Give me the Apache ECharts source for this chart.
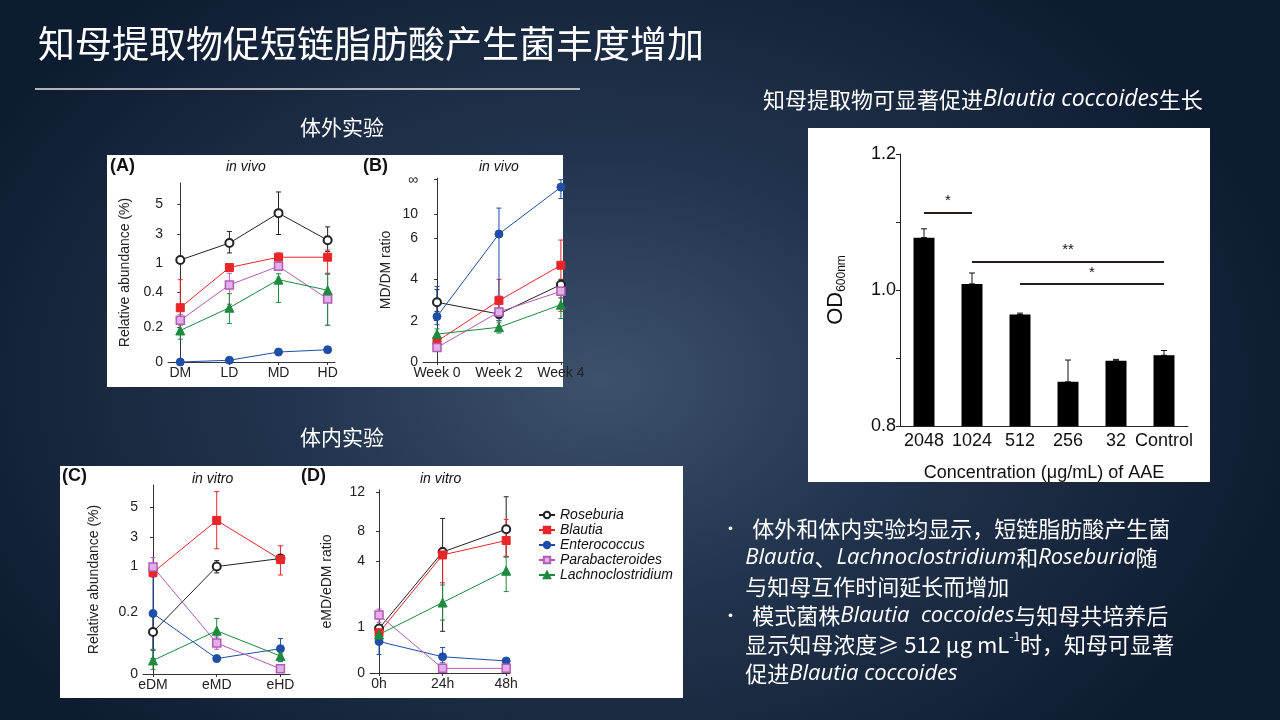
<!DOCTYPE html>
<html>
<head>
<meta charset="utf-8">
<script src="https://cdn.jsdelivr.net/npm/echarts@6/dist/echarts.min.js"></script>
<style>
  html, body { margin: 0; padding: 0; }
  body { width: 1280px; height: 720px; overflow: hidden;
    background: radial-gradient(ellipse 700px 500px at 600px 380px, #3e516a 0%, #22344d 45%, #0e1c31 100%); }
  #main { width: 1280px; height: 720px; }
</style>
</head>
<body>
<div id="main"></div>
<script type="application/javascript">
// ---- data ----
var species = ['Roseburia', 'Blautia', 'Enterococcus', 'Parabacteroides', 'Lachnoclostridium'];
var colors = ['#222222', '#e8262a', '#1f4ea6', '#b45ab9', '#1e8a3e'];
var symbols = ['emptyCircle', 'rect', 'circle', 'rect', 'triangle'];

// (A) in vivo, relative abundance (%)
var catsA = ['DM', 'LD', 'MD', 'HD'];
var valsA = [
  [1.2, 2.4, 4.4, 2.6],
  [0.31, 0.8, 1.4, 1.4],
  [0, 0.01, 0.057, 0.07],
  [0.238, 0.44, 0.85, 0.36],
  [0.18, 0.31, 0.47, 0.41]
];
var errA = [
  [[1.1, 1.3], [1.7, 3.2], [3.0, 5.8], [1.8, 3.5]],
  [[0.26, 0.47], [0.75, 0.85], [1.2, 1.7], [0.55, 1.9]],
  [[0, 0.003], [0.005, 0.015], [0.045, 0.07], [0.055, 0.085]],
  [[0.21, 0.27], [0.33, 0.55], [0.7, 1.0], [0.21, 0.5]],
  [[0.13, 0.23], [0.22, 0.39], [0.34, 0.53], [0.21, 0.53]]
];
var ticksA = [0, 0.2, 0.4, 1, 3, 5];

// (B) in vivo, MD/DM ratio (24 stands for the infinity tick)
var catsB = ['Week 0', 'Week 2', 'Week 4'];
var valsB = [
  [2.89, 2.32, 3.74],
  [1.0, 2.97, 4.68],
  [2.2, 6.19, 21],
  [0.7, 2.42, 3.42],
  [1.35, 1.68, 2.77]
];
var errB = [
  [[2.45, 3.5], [2.0, 2.6], [3.4, 4.0]],
  [[0.9, 1.1], [2.3, 4.0], [2.45, 5.9]],
  [[1.8, 3.65], [2.1, 12.6], [16.4, 24]],
  [[0.6, 0.8], [1.9, 3.2], [3.1, 3.6]],
  [[1.1, 1.6], [1.4, 2.0], [2.1, 3.1]]
];
var ticksB = [0, 2, 4, 6, 10, 24];

// (C) in vitro, relative abundance (%)
var catsC = ['eDM', 'eMD', 'eHD'];
var valsC = [
  [0.136, 1.0, 1.54],
  [0.72, 4.1, 1.48],
  [0.196, 0.05, 0.082],
  [0.98, 0.1, 0.017],
  [0.044, 0.14, 0.058]
];
var errC = [
  [[0.077, 0.2], [0.7, 1.4], [1.2, 1.8]],
  [[0.5, 0.9], [2.2, 6.0], [0.6, 2.4]],
  [[0.05, 0.6], [0.04, 0.06], [0.04, 0.115]],
  [[0.7, 1.6], [0.08, 0.12], [0.01, 0.025]],
  [[0.015, 0.08], [0.1, 0.18], [0.05, 0.065]]
];
var ticksC = [0, 0.2, 1, 3, 5];

// (D) in vitro, eMD/eDM ratio
var catsD = ['0h', '24h', '48h'];
var valsD = [
  [0.96, 5.2, 8.2],
  [0.87, 4.8, 6.75],
  [0.68, 0.35, 0.26],
  [1.53, 0.1, 0.1],
  [0.83, 2.1, 3.55]
];
var errD = [
  [[0.85, 1.0], [0.9, 9.3], [4.6, 11.5]],
  [[0.8, 0.95], [3.0, 5.8], [4.6, 9.2]],
  [[0.4, 0.8], [0.22, 0.55], [0.2, 0.3]],
  [[1.2, 1.8], [0.08, 0.12], [0.08, 0.12]],
  [[0.75, 0.9], [1.3, 2.9], [2.6, 4.5]]
];
var ticksD = [0, 1, 4, 8, 12];

// right: OD600 of Blautia coccoides
var concCats = ['2048', '1024', '512', '256', '32', 'Control'];
var odVals = [1.077, 1.009, 0.964, 0.865, 0.896, 0.904];
var odErr = [1.09, 1.025, 0.966, 0.897, 0.898, 0.911];

// broken-axis scales: [value, axis position]
var knotsA = [[0, 0], [0.4, 2], [0.5, 2.5], [1, 2.83], [3, 3.64], [5, 4.51], [8, 5.8]];
var knotsB = [[0, 0], [6.9, 6.9], [10, 7.13], [24, 8.82]];
var knotsC = [[0, 0], [0.3, 3.0], [1, 3.48], [3, 4.44], [5, 5.41], [8, 6.9]];
var knotsD = [[0, 0], [1, 1], [4, 2.42], [8, 3.06], [12, 3.91], [16, 4.76]];

function tr(knots, v) {
  for (var i = 1; i < knots.length; i++) {
    var a = knots[i - 1], b = knots[i];
    if (v <= b[0] || i === knots.length - 1) {
      return a[1] + (v - a[0]) / (b[0] - a[0]) * (b[1] - a[1]);
    }
  }
}

var chartDom = document.getElementById('main');
var myChart = echarts.init(chartDom, null, { renderer: 'canvas' });
var plotFont = 'Liberation Sans';
var cjk = '"Noto Sans CJK SC", "Noto Sans", sans-serif';

var grids = [
  { left: 168, top: 183, width: 167, height: 179 },   // A
  { left: 423, top: 178, width: 141, height: 184 },   // B
  { left: 143, top: 485, width: 147, height: 189 },   // C
  { left: 370, top: 490, width: 140, height: 183 },   // D
  { left: 900, top: 154, width: 288, height: 272 }    // OD bars
];

var panels = [
  { cats: catsA, vals: valsA, err: errA, ticks: ticksA, knots: knotsA, xmin: -0.25, xmax: 3.15, ymax: 5.11, name: 'Relative abundance (%)', gap: 36 },
  { cats: catsB, vals: valsB, err: errB, ticks: ticksB, knots: knotsB, xmin: -0.226, xmax: 2.05, ymax: 8.9, name: 'MD/DM ratio', gap: 30 },
  { cats: catsC, vals: valsC, err: errC, ticks: ticksC, knots: knotsC, xmin: -0.157, xmax: 2.15, ymax: 6.12, name: 'Relative abundance (%)', gap: 42 },
  { cats: catsD, vals: valsD, err: errD, ticks: ticksD, knots: knotsD, xmin: -0.142, xmax: 2.06, ymax: 3.95, name: 'eMD/eDM ratio', gap: 36 }
];

var xAxes = [], yAxes = [], series = [];

function errRender(color, capW) {
  return function (params, api) {
    var x = api.value(0);
    var lo = api.coord([x, api.value(1)]);
    var hi = api.coord([x, api.value(2)]);
    var st = { stroke: color, lineWidth: 1 };
    return { type: 'group', children: [
      { type: 'line', shape: { x1: lo[0], y1: lo[1], x2: hi[0], y2: hi[1] }, style: st },
      { type: 'line', shape: { x1: lo[0] - capW, y1: lo[1], x2: lo[0] + capW, y2: lo[1] }, style: st },
      { type: 'line', shape: { x1: hi[0] - capW, y1: hi[1], x2: hi[0] + capW, y2: hi[1] }, style: st }
    ] };
  };
}

panels.forEach(function (p, gi) {
  xAxes.push({
    gridIndex: gi, type: 'value', min: p.xmin, max: p.xmax,
    axisLine: { lineStyle: { color: '#333' } },
    axisTick: { customValues: p.cats.map(function (c, i) { return i; }), length: 3, lineStyle: { color: '#333' } },
    axisLabel: { customValues: p.cats.map(function (c, i) { return i; }), color: '#222', fontFamily: plotFont, fontSize: 14, margin: 4,
      formatter: function (v) { return p.cats[Math.round(v)]; } },
    splitLine: { show: false }
  });
  var tpos = p.ticks.map(function (v) { return tr(p.knots, v); });
  yAxes.push({
    gridIndex: gi, type: 'value', min: 0, max: p.ymax,
    name: p.name, nameLocation: 'middle', nameGap: p.gap, nameRotate: 90,
    nameTextStyle: { color: '#222', fontFamily: plotFont, fontSize: 14 },
    axisLine: { show: true, lineStyle: { color: '#333' } },
    axisTick: { show: true, customValues: tpos, length: 3, inside: false, lineStyle: { color: '#333' } },
    axisLabel: { customValues: tpos, color: '#222', fontFamily: plotFont, fontSize: 14, margin: 5,
      formatter: function (v) {
        var i = tpos.findIndex(function (t) { return Math.abs(t - v) < 1e-6; });
        var val = p.ticks[i];
        return (gi === 1 && val === 24) ? '∞' : String(val);
      } },
    splitLine: { show: false }
  });
  species.forEach(function (sp, si) {
    var isPurple = si === 3;
    series.push({
      name: sp, type: 'line', xAxisIndex: gi, yAxisIndex: gi,
      data: p.vals[si].map(function (v, i) { return [i, tr(p.knots, v)]; }),
      symbol: symbols[si], symbolSize: si === 4 ? 9 : 8,
      lineStyle: { color: colors[si], width: 1 },
      itemStyle: { color: isPurple ? '#e2b0e4' : colors[si], borderColor: colors[si], borderWidth: isPurple ? 1.5 : 1 },
      z: 3
    });
    series.push({
      type: 'custom', xAxisIndex: gi, yAxisIndex: gi,
      renderItem: errRender(colors[si], 2.5),
      data: p.err[si].map(function (e, i) { return [i, tr(p.knots, e[0]), tr(p.knots, e[1])]; }),
      z: 2, silent: true
    });
  });
});

// OD600 bar chart
xAxes.push({
  gridIndex: 4, type: 'category', data: concCats,
  axisLine: { lineStyle: { color: '#222' } },
  axisTick: { length: 4, lineStyle: { color: '#222' } },
  axisLabel: { color: '#111', fontFamily: plotFont, fontSize: 18, margin: 6, interval: 0 },
  name: 'Concentration (μg/mL) of AAE', nameLocation: 'middle', nameGap: 38,
  nameTextStyle: { color: '#111', fontFamily: plotFont, fontSize: 18 }
});
yAxes.push({
  gridIndex: 4, type: 'value', min: 0.8, max: 1.2, interval: 0.1,
  axisLine: { show: true, lineStyle: { color: '#222' } },
  axisTick: { show: true, length: 4, lineStyle: { color: '#222' } },
  axisLabel: { color: '#111', fontFamily: plotFont, fontSize: 18, margin: 4,
    formatter: function (v) { return Math.abs(v * 10 - Math.round(v * 10)) < 1e-6 && Math.round(v * 10) % 2 === 0 ? v.toFixed(1) : ''; } },
  splitLine: { show: false },
  name: '{a|OD}{b|600nm}', nameLocation: 'middle', nameGap: 52, nameRotate: 90,
  nameTextStyle: { rich: { a: { fontSize: 22, fontFamily: plotFont, color: '#111' }, b: { fontSize: 12, fontFamily: plotFont, color: '#111', verticalAlign: 'bottom', padding: [12, 0, 0, 0] } } }
});
var sigStyle = { color: '#2a1a1a', width: 2, type: 'solid' };
series.push({
  type: 'bar', xAxisIndex: 4, yAxisIndex: 4, data: odVals, barWidth: 21,
  itemStyle: { color: '#000' }, z: 2,
  markLine: {
    symbol: 'none', silent: true, lineStyle: sigStyle,
    label: { show: true, position: 'middle', formatter: '{b}', color: '#111', fontSize: 15, distance: 4 },
    data: [
      [{ coord: ['2048', 1.114], name: '*' }, { coord: ['1024', 1.114] }],
      [{ coord: ['1024', 1.042], name: '**' }, { coord: ['Control', 1.042] }],
      [{ coord: ['512', 1.009], name: '*' }, { coord: ['Control', 1.009] }]
    ]
  }
});
series.push({
  type: 'custom', xAxisIndex: 4, yAxisIndex: 4, silent: true, z: 1,
  renderItem: errRender('#111', 3),
  data: odVals.map(function (v, i) { return [i, v, odErr[i]]; })
});

var option = {
  animation: false,
  textStyle: { fontFamily: plotFont },
  graphic: [
    { type: 'rect', shape: { x: 107, y: 155, width: 456, height: 232 }, style: { fill: '#fff' }, z: -10 },
    { type: 'rect', shape: { x: 60, y: 466, width: 623, height: 232 }, style: { fill: '#fff' }, z: -10 },
    { type: 'rect', shape: { x: 808, y: 128, width: 402, height: 354 }, style: { fill: '#fff' }, z: -10 },
    { type: 'text', left: 38, top: 25, style: { text: '知母提取物促短链脂肪酸产生菌丰度增加', fill: '#fff', font: '37px ' + cjk } },
    { type: 'line', shape: { x1: 35, y1: 89, x2: 580, y2: 89 }, style: { stroke: '#e8e8e8', lineWidth: 1.5 } },
    { type: 'text', left: 300, top: 117, style: { text: '体外实验', fill: '#fff', font: '21px ' + cjk } },
    { type: 'text', left: 300, top: 427, style: { text: '体内实验', fill: '#fff', font: '21px ' + cjk } },
    { type: 'text', left: 763, top: 88, style: { text: '{c|知母提取物可显著促进}{i|Blautia coccoides}{c|生长}', fill: '#fff',
      rich: { c: { fontFamily: cjk, fontSize: 22, fill: '#fff' }, i: { fontFamily: 'Open Sans', fontStyle: 'italic', fontSize: 23, fill: '#fff' } } } },
    { type: 'text', left: 110, top: 157, style: { text: '(A)', fill: '#111', font: 'bold 18px ' + plotFont } },
    { type: 'text', left: 226, top: 160, style: { text: 'in vivo', fill: '#111', font: 'italic 14px ' + plotFont } },
    { type: 'text', left: 363, top: 157, style: { text: '(B)', fill: '#111', font: 'bold 18px ' + plotFont } },
    { type: 'text', left: 479, top: 160, style: { text: 'in vivo', fill: '#111', font: 'italic 14px ' + plotFont } },
    { type: 'text', left: 62, top: 467, style: { text: '(C)', fill: '#111', font: 'bold 18px ' + plotFont } },
    { type: 'text', left: 192, top: 472, style: { text: 'in vitro', fill: '#111', font: 'italic 14px ' + plotFont } },
    { type: 'text', left: 301, top: 467, style: { text: '(D)', fill: '#111', font: 'bold 18px ' + plotFont } },
    { type: 'text', left: 420, top: 472, style: { text: 'in vitro', fill: '#111', font: 'italic 14px ' + plotFont } },
    { type: 'text', left: 722, top: 518, style: {
      text: [
        '{b|•}    {c|体外和体内实验均显示，短链脂肪酸产生菌}',
        '       {i|Blautia}{c|、}{i|Lachnoclostridium}{c|和}{i|Roseburia}{c|随}',
        '       {c|与知母互作时间延长而增加}',
        '{b|•}    {c|模式菌株}{i|Blautia  coccoides}{c|与知母共培养后}',
        '       {c|显示知母浓度≥ 512 μg mL}{s|-1}{c|时，知母可显著}',
        '       {c|促进}{i|Blautia coccoides}'
      ].join('\n'),
      rich: {
        b: { fontSize: 17, fill: '#fff', fontFamily: cjk, lineHeight: 29 },
        c: { fontSize: 22, fill: '#fff', fontFamily: cjk, lineHeight: 29 },
        i: { fontSize: 22, fill: '#fff', fontFamily: 'Open Sans', fontStyle: 'italic', lineHeight: 29 },
        s: { fontSize: 12, fill: '#fff', fontFamily: cjk, verticalAlign: 'top', lineHeight: 29, padding: [0, 0, 10, 0] }
      }
    } }
  ],
  legend: {
    data: species, orient: 'vertical', left: 533, top: 503, itemGap: 1,
    itemWidth: 16, itemHeight: 8,
    textStyle: { fontStyle: 'italic', fontSize: 14, color: '#111', fontFamily: plotFont }
  },
  grid: grids,
  xAxis: xAxes,
  yAxis: yAxes,
  series: series
};

option && myChart.setOption(option);
</script>
</body>
</html>
